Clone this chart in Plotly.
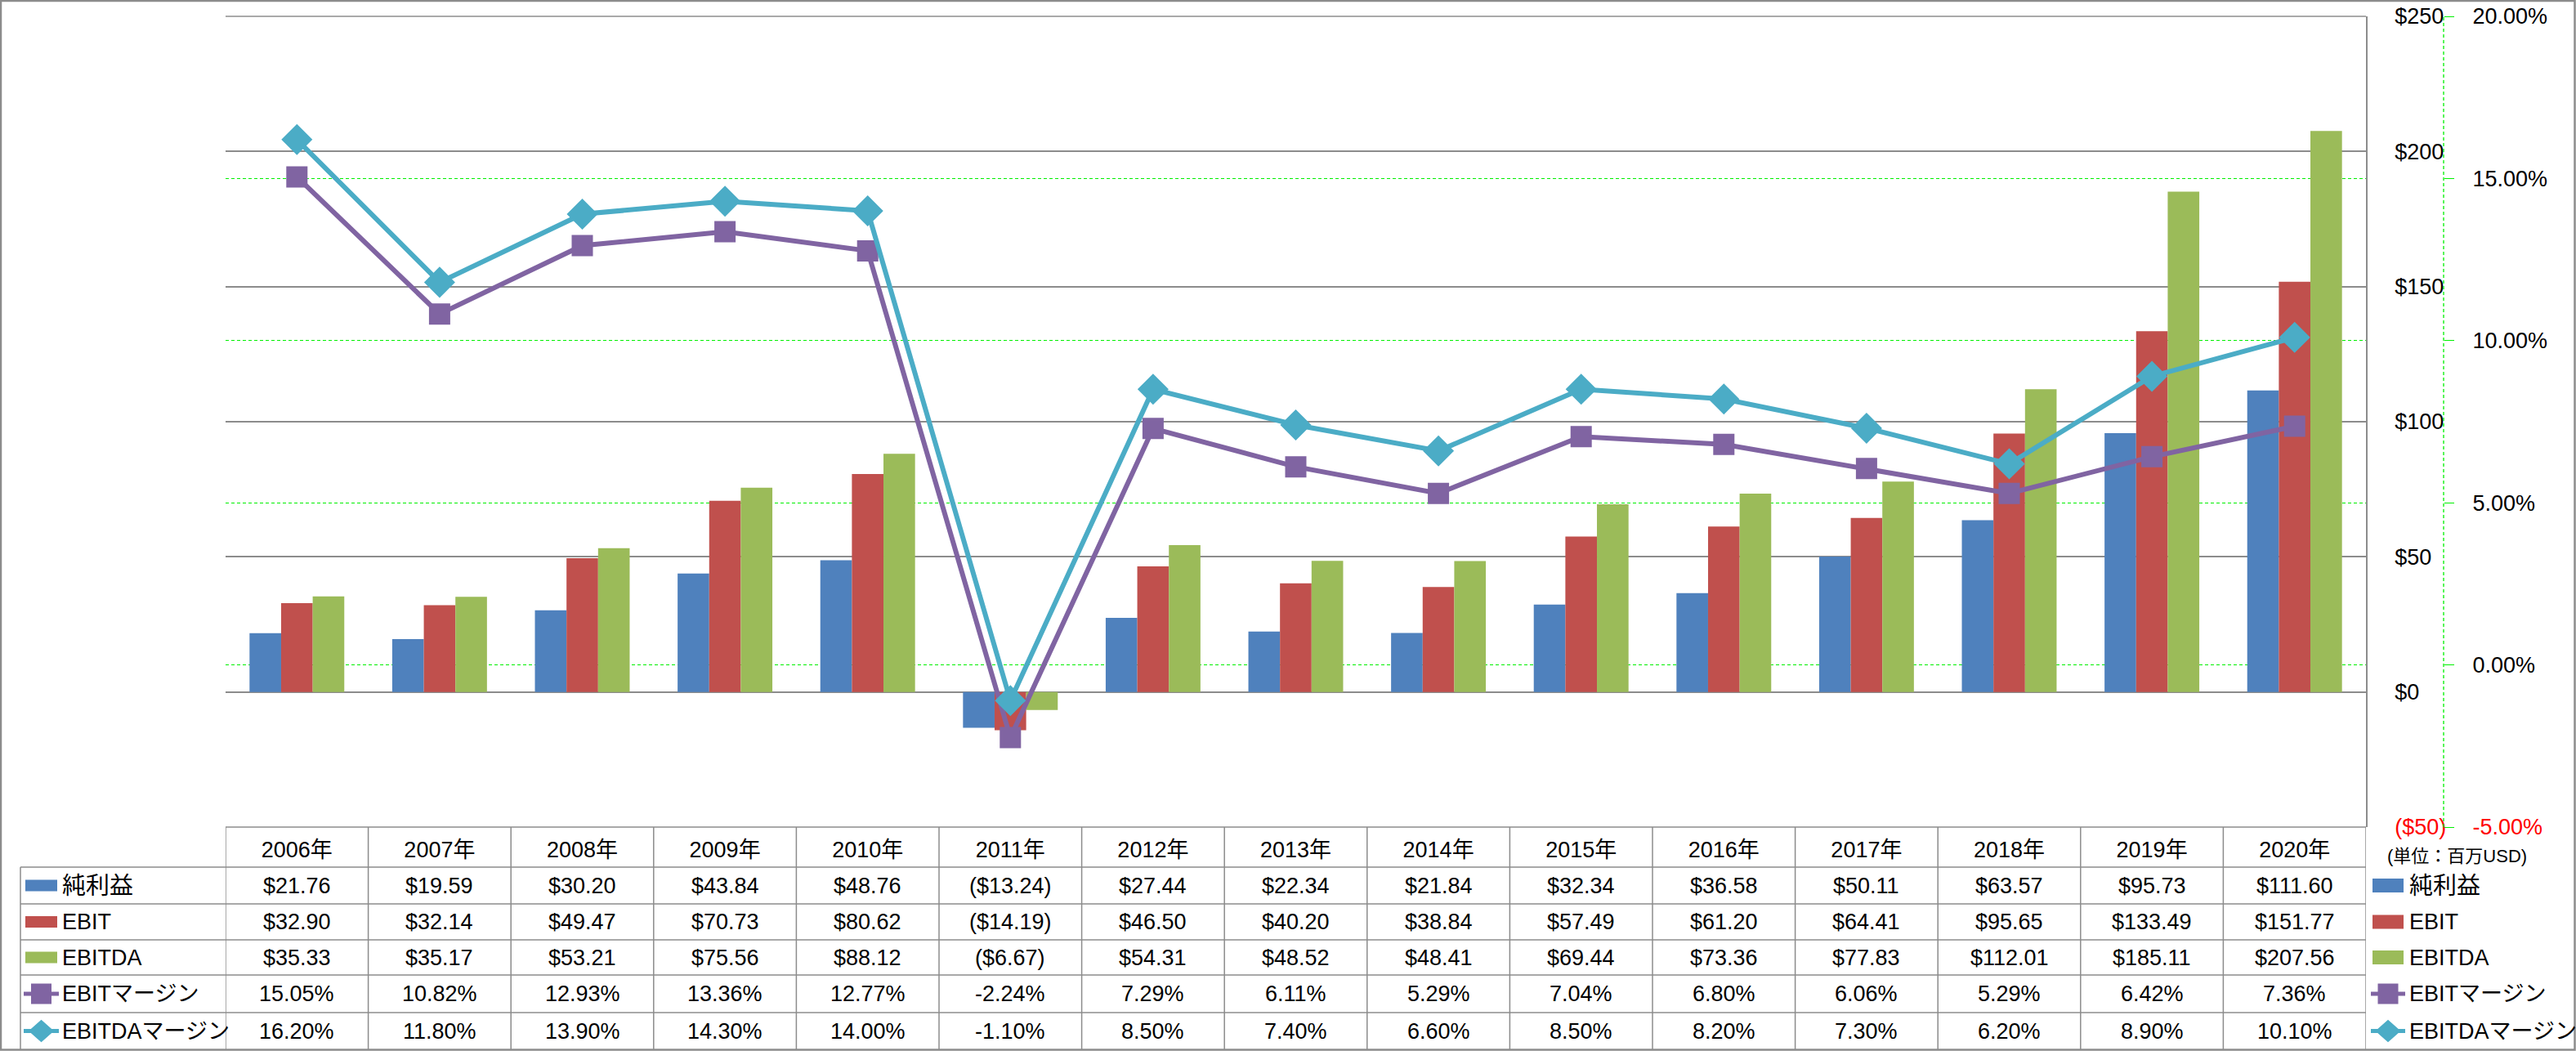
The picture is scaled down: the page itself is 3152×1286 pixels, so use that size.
import plotly.graph_objects as go

# ---------------- data ----------------
years = ["2006年", "2007年", "2008年", "2009年", "2010年", "2011年", "2012年", "2013年",
         "2014年", "2015年", "2016年", "2017年", "2018年", "2019年", "2020年"]
net_income = [21.76, 19.59, 30.20, 43.84, 48.76, -13.24, 27.44, 22.34, 21.84, 32.34,
              36.58, 50.11, 63.57, 95.73, 111.60]
ebit = [32.90, 32.14, 49.47, 70.73, 80.62, -14.19, 46.50, 40.20, 38.84, 57.49,
        61.20, 64.41, 95.65, 133.49, 151.77]
ebitda = [35.33, 35.17, 53.21, 75.56, 88.12, -6.67, 54.31, 48.52, 48.41, 69.44,
          73.36, 77.83, 112.01, 185.11, 207.56]
ebit_margin = [15.05, 10.82, 12.93, 13.36, 12.77, -2.24, 7.29, 6.11, 5.29, 7.04,
               6.80, 6.06, 5.29, 6.42, 7.36]
ebitda_margin = [16.20, 11.80, 13.90, 14.30, 14.00, -1.10, 8.50, 7.40, 6.60, 8.50,
                 8.20, 7.30, 6.20, 8.90, 10.10]
usd_ticks = [-50, 0, 50, 100, 150, 200, 250]
pct_ticks = [-5, 0, 5, 10, 15, 20]
series_names = ["純利益", "EBIT", "EBITDA", "EBITマージン", "EBITDAマージン"]
unit_label = "(単位：百万USD)"

# ---------------- style ----------------
C_BLUE, C_RED, C_GREEN = "#4F81BD", "#C0504D", "#9BBB59"
C_PURPLE, C_CYAN = "#8064A2", "#4BACC6"
GRAY = "#8C8C8C"
LIME = "#00F000"
FONT = "Liberation Sans, Noto Sans CJK JP, sans-serif"
FS = 27

W, H = 3152, 1286
ML, MR, MT, MB = 276, 257, 20, 274
PW = W - ML - MR
PH = H - MT - MB


def fx(p):
    return (p - ML) / PW


def fy(p):
    return (H - MB - p) / PH


def money(v):
    return f"${v:,.2f}" if v >= 0 else f"(${-v:,.2f})"


def usd_tick(v):
    return f"${v}" if v >= 0 else f'<span style="color:#FF0000">(${-v})</span>'


def pct_tick(v):
    t = f"{v:.2f}%"
    return t if v >= 0 else f'<span style="color:#FF0000">{t}</span>'


fig = go.Figure()
for name, vals, col in [(series_names[0], net_income, C_BLUE),
                        (series_names[1], ebit, C_RED),
                        (series_names[2], ebitda, C_GREEN)]:
    fig.add_trace(go.Bar(x=years, y=vals, name=name, marker=dict(color=col, line=dict(width=0))))

fig.add_trace(go.Scatter(x=years, y=ebit_margin, name=series_names[3], yaxis="y2",
                         mode="lines+markers",
                         line=dict(color=C_PURPLE, width=6),
                         marker=dict(symbol="square", size=23, color=C_PURPLE,
                                     line=dict(color=C_PURPLE, width=3))))
fig.add_trace(go.Scatter(x=years, y=ebitda_margin, name=series_names[4], yaxis="y2",
                         mode="lines+markers",
                         line=dict(color=C_CYAN, width=6),
                         marker=dict(symbol="diamond", size=26, color=C_CYAN,
                                     line=dict(color=C_CYAN, width=3))))

shapes = []
annotations = []

# row boundaries (pixels) of the data table
row_lines = [1012, 1061, 1106, 1150, 1193, 1239, 1284]
row_centers = [(row_lines[i] + row_lines[i + 1]) / 2 for i in range(1, 6)]

# horizontal table lines
shapes.append(dict(type="line", xref="paper", yref="paper", x0=0, x1=1, y0=fy(1012), y1=fy(1012),
                   line=dict(color=GRAY, width=1.5), layer="above"))
for p in row_lines[1:6]:
    shapes.append(dict(type="line", xref="paper", yref="paper", x0=fx(25), x1=1, y0=fy(p), y1=fy(p),
                       line=dict(color=GRAY, width=1.5), layer="above"))
# vertical table lines at category boundaries
for i in range(len(years) + 1):
    shapes.append(dict(type="line", xref="x", yref="paper", x0=i - 0.5, x1=i - 0.5,
                       y0=fy(1012), y1=fy(1284), line=dict(color=GRAY, width=1.5), layer="above"))
shapes.append(dict(type="line", xref="paper", yref="paper", x0=fx(25), x1=fx(25),
                   y0=fy(1061), y1=fy(1284), line=dict(color=GRAY, width=1.5), layer="above"))
# top plot border line
shapes.append(dict(type="line", xref="paper", yref="paper", x0=0, x1=1, y0=1, y1=1,
                   line=dict(color=GRAY, width=1.5), layer="between"))
# secondary axis dashed line
shapes.append(dict(type="line", xref="paper", yref="paper", x0=fx(2990), x1=fx(2990),
                   y0=0, y1=1, line=dict(color=LIME, width=1.3, dash="4px,3px")))
# outer chart border
shapes.append(dict(type="rect", xref="paper", yref="paper", x0=fx(1), x1=fx(W - 1.5),
                   y0=fy(H - 1.5), y1=fy(1), line=dict(color=GRAY, width=2.5)))

# table values
rows = [[money(v) for v in net_income], [money(v) for v in ebit], [money(v) for v in ebitda],
        [f"{v:.2f}%" for v in ebit_margin], [f"{v:.2f}%" for v in ebitda_margin]]
for r, texts in enumerate(rows):
    for i, t in enumerate(texts):
        annotations.append(dict(xref="x", yref="paper", x=years[i], y=fy(row_centers[r]), text=t,
                                showarrow=False, xanchor="center", yanchor="middle",
                                font=dict(family=FONT, size=FS, color="black")))

# legend keys: left (table row headers) and right (chart legend)
key_cols = [C_BLUE, C_RED, C_GREEN, C_PURPLE, C_CYAN]
for (kx0, kx1, tx, rect_h) in [(31, 70, 74, 14), (2903, 2941, 2946, 17)]:
    cx = (kx0 + kx1) / 2
    for r, name in enumerate(series_names):
        cy = row_centers[r]
        col = key_cols[r]
        if r < 3:
            shapes.append(dict(type="rect", xref="paper", yref="paper", x0=fx(kx0), x1=fx(kx1),
                               y0=fy(cy + rect_h / 2), y1=fy(cy - rect_h / 2), fillcolor=col,
                               line=dict(width=0), layer="above"))
        else:
            shapes.append(dict(type="line", xref="paper", yref="paper", x0=fx(kx0 - 2),
                               x1=fx(kx1 + 2), y0=fy(cy), y1=fy(cy),
                               line=dict(color=col, width=5), layer="above"))
            if r == 3:
                shapes.append(dict(type="rect", xref="paper", yref="paper", x0=fx(cx - 11.5),
                                   x1=fx(cx + 11.5), y0=fy(cy + 11.5), y1=fy(cy - 11.5),
                                   fillcolor=col, line=dict(color=col, width=2), layer="above"))
            else:
                pts = [(cx - 14, cy), (cx, cy - 12.5), (cx + 14, cy), (cx, cy + 12.5)]
                path = "M " + " L ".join(f"{fx(a)},{fy(b)}" for a, b in pts) + " Z"
                shapes.append(dict(type="path", xref="paper", yref="paper", path=path,
                                   fillcolor=col, line=dict(color=col, width=2), layer="above"))
        annotations.append(dict(xref="paper", yref="paper", x=fx(tx), y=fy(cy), text=name,
                                showarrow=False, xanchor="left", yanchor="middle",
                                font=dict(family=FONT, size=(29 if r == 0 else FS),
                                          color="black")))

# unit label
annotations.append(dict(xref="paper", yref="paper", x=fx(3006), y=fy(1047), text=unit_label,
                        showarrow=False, xanchor="center", yanchor="middle",
                        font=dict(family=FONT, size=22, color="black")))

fig.update_layout(
    width=W, height=H, autosize=False,
    margin=dict(l=ML, r=MR, t=MT, b=MB, pad=0, autoexpand=False),
    paper_bgcolor="white", plot_bgcolor="white",
    barmode="group", bargap=0.336, bargroupgap=0,
    showlegend=False,
    font=dict(family=FONT, size=FS, color="black"),
    xaxis=dict(type="category", range=[-0.5, len(years) - 0.5], showgrid=False, zeroline=False,
               showline=False, ticks="", showticklabels=True, ticklabelstandoff=9,
               automargin=False, tickfont=dict(family=FONT, size=FS, color="black")),
    yaxis=dict(side="right", range=[-50, 250], tickvals=usd_ticks,
               ticktext=[usd_tick(v) for v in usd_ticks], showgrid=True, gridcolor=GRAY,
               gridwidth=1.5, zeroline=False, showline=True, linecolor=GRAY, linewidth=1.5,
               ticks="", ticklabelstandoff=28, automargin=False,
               tickfont=dict(family=FONT, size=FS, color="black")),
    yaxis2=dict(overlaying="y", side="right", anchor="free", position=1, shift=95,
                range=[-5, 20], tickvals=pct_ticks, ticktext=[pct_tick(v) for v in pct_ticks],
                showgrid=True, gridcolor=LIME, griddash="4px,3px", gridwidth=1.3,
                zeroline=False, showline=False, ticks="outside", ticklen=12, tickcolor=LIME,
                tickwidth=1.3, ticklabelstandoff=17, automargin=False,
                tickfont=dict(family=FONT, size=FS, color="black")),
    shapes=shapes, annotations=annotations,
)

fig.write_html("out.html", config={"displayModeBar": False},
               post_script="document.body.style.margin='0px';document.body.style.overflow='hidden';")
